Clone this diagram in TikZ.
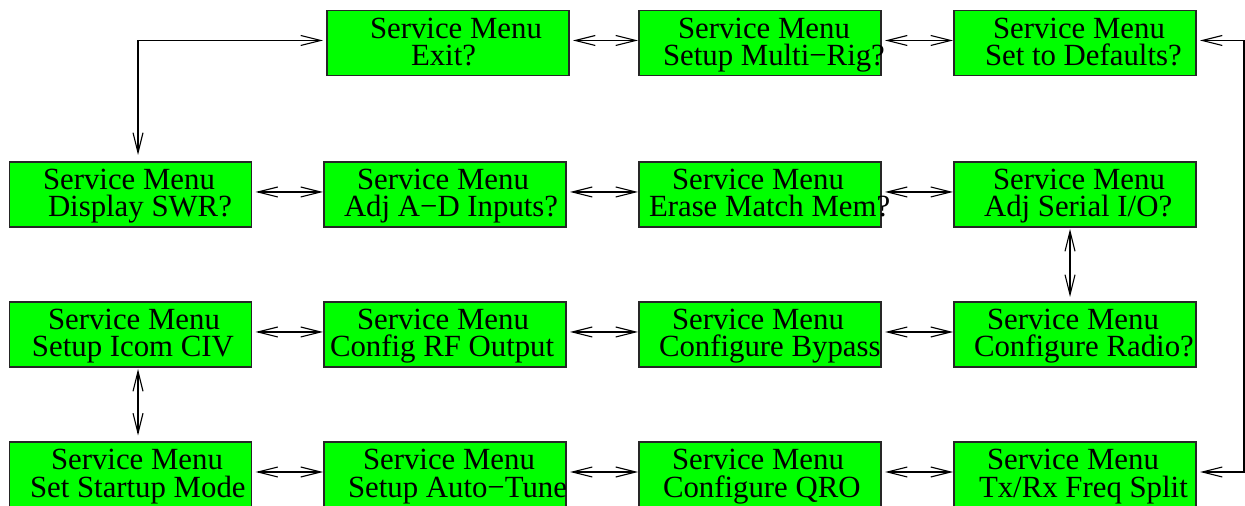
\documentclass[tikz,border=0pt]{standalone}
\usepackage{fontspec}
\setmainfont{Liberation Serif}
\usetikzlibrary{arrows.meta,calc}

% One menu screen: box at its top-left corner plus two text lines
% #1 name, #2/#3 top-left corner (px), #4/#5 left offsets of the lines, #6 second line
\newcommand\menubox[6]{%
  \node[mbox] (#1) at (#2,#3) {};
  \node[menuline] (#1-a) at ($(#1.north west)+(#4,28)$) {Service Menu};
  \node[menuline] (#1-b) at ($(#1.north west)+(#5,55)$) {#6};
}

\begin{document}
\begin{tikzpicture}[
    x=0.5pt, y=-0.5pt,
    mbox/.style={draw=black!85, line width=0.6pt, fill=green,
      minimum width=121pt, minimum height=32.5pt,
      inner sep=0pt, outer sep=0pt, anchor=north west},
    menuline/.style={anchor=base west, inner sep=0pt, outer sep=0pt,
      font=\fontsize{15.4}{18}\selectfont},
    dbl/.style={line width=0.55pt,
      {Straight Barb[length=10pt,width=5pt]}-{Straight Barb[length=10pt,width=5pt]}}
  ]
  \clip (0,0) rectangle (1245,506);
  \fill[white] (0,0) rectangle (1245,506);

  % first row
  \menubox{exit}{327}{10.5}{43}{84}{Exit?}
  \menubox{multi}{639}{10.5}{39}{24}{Setup Multi−Rig?}
  \menubox{defaults}{954}{10.5}{39}{31}{Set to Defaults?}

  % second row
  \menubox{swr}{9.5}{162}{33.5}{38.5}{Display SWR?}
  \menubox{adin}{324}{162}{33}{20}{Adj A−D Inputs?}
  \menubox{erase}{639}{162}{33}{10}{Erase Match Mem?}
  \menubox{serial}{954}{162}{39}{30}{Adj Serial I/O?}

  % third row
  \menubox{icom}{9.5}{302}{38.5}{22.5}{Setup Icom CIV}
  \menubox{rfout}{324}{302}{33}{6}{Config RF Output}
  \menubox{bypass}{639}{302}{33}{20}{Configure Bypass}
  \menubox{radio}{954}{302}{33}{20}{Configure Radio?}

  % fourth row
  \menubox{startup}{9.5}{442}{41.5}{20.5}{Set Startup Mode}
  \menubox{autotune}{324}{442}{39}{24}{Setup Auto−Tune}
  \menubox{qro}{639}{442}{33}{24}{Configure QRO}
  \menubox{txrx}{954}{442}{33}{25}{Tx/Rx Freq Split}

  % links along each row
  \draw[dbl] ($(exit.north east)+(4,30)$) -- ($(multi.north west)+(-1,30)$);
  \draw[dbl] ($(multi.north east)+(4,30)$) -- ($(defaults.north west)+(-1,30)$);

  \draw[dbl] ($(swr.north east)+(4,30)$) -- ($(adin.north west)+(-1,30)$);
  \draw[dbl] ($(adin.north east)+(4,30)$) -- ($(erase.north west)+(-1,30)$);
  \draw[dbl] ($(erase.north east)+(4,30)$) -- ($(serial.north west)+(-1,30)$);

  \draw[dbl] ($(icom.north east)+(4,30)$) -- ($(rfout.north west)+(-1,30)$);
  \draw[dbl] ($(rfout.north east)+(4,30)$) -- ($(bypass.north west)+(-1,30)$);
  \draw[dbl] ($(bypass.north east)+(4,30)$) -- ($(radio.north west)+(-1,30)$);

  \draw[dbl] ($(startup.north east)+(4,30)$) -- ($(autotune.north west)+(-1,30)$);
  \draw[dbl] ($(autotune.north east)+(4,30)$) -- ($(qro.north west)+(-1,30)$);
  \draw[dbl] ($(qro.north east)+(4,30)$) -- ($(txrx.north west)+(-1,30)$);

  % vertical links between rows
  \draw[dbl] ($(serial.south west)+(116,2)$) -- ($(radio.north west)+(116,-5)$);
  \draw[dbl] ($(icom.south west)+(128.5,2)$) -- ($(startup.north west)+(128.5,-6.5)$);

  % Exit <-> Display SWR
  \coordinate (exitL) at ($(exit.north west)+(-4,30)$);
  \coordinate (swrT) at ($(swr.north west)+(128.5,-7)$);
  \draw[dbl] (swrT) |- (exitL);

  % Set to Defaults <-> Tx/Rx Freq Split along the right edge
  \coordinate (rail) at (1244,0);
  \coordinate (defR) at ($(defaults.north east)+(4,30)$);
  \coordinate (txrxR) at ($(txrx.north east)+(4,30)$);
  \draw[dbl] (defR) -- (defR -| rail) -- (txrxR -| rail) -- (txrxR);
\end{tikzpicture}
\end{document}
